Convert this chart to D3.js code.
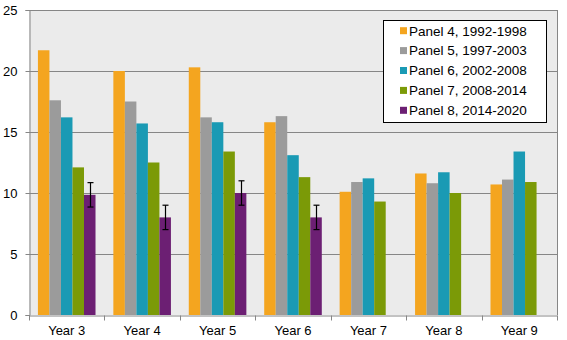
<!DOCTYPE html>
<html>
<head>
<meta charset="utf-8">
<script src="https://cdn.jsdelivr.net/npm/d3@7"></script>
<style>
  body { margin: 0; background: #fff; }
  svg text { font-family: "Liberation Sans", Arial, sans-serif; }
</style>
</head>
<body>
<svg id="chart" width="567" height="340"></svg>
<script>
// categories and series
const years = ["Year 3", "Year 4", "Year 5", "Year 6", "Year 7", "Year 8", "Year 9"];
const panels = ["Panel 4, 1992-1998", "Panel 5, 1997-2003", "Panel 6, 2002-2008", "Panel 7, 2008-2014", "Panel 8, 2014-2020"];
const panel4 = [21.7, 20.0, 20.3, 15.8, 10.1, 11.6, 10.7];
const panel5 = [17.6, 17.5, 16.2, 16.3, 10.9, 10.8, 11.1];
const panel6 = [16.2, 15.7, 15.8, 13.1, 11.2, 11.7, 13.4];
const panel7 = [12.1, 12.5, 13.4, 11.3, 9.3, 10.0, 10.9];
const panel8 = [9.85, 8.0, 10.0, 8.0, null, null, null];
const panel8Err = [1.0, 1.0, 1.0, 1.0, null, null, null];
const yTicks = [0, 5, 10, 15, 20, 25];

const colors = ["#F4A51F", "#9B9B9B", "#1A9AB4", "#7B9A07", "#6C1F73"];
const series = [panel4, panel5, panel6, panel7, panel8];

const svg = d3.select("#chart");
const m = { left: 29, right: 10, top: 10, bottom: 25 };
const W = 567, H = 340;

const x = d3.scaleBand().domain(years).range([m.left, W - m.right]);
const y = d3.scaleLinear().domain([0, 25]).range([H - m.bottom, m.top]);

// plot background
svg.append("rect")
  .attr("x", m.left).attr("y", m.top)
  .attr("width", W - m.right - m.left).attr("height", H - m.bottom - m.top)
  .attr("fill", "#EBEBEB");

// gridlines
svg.append("g").selectAll("line").data(yTicks.slice(1)).join("line")
  .attr("x1", m.left).attr("x2", W - m.right)
  .attr("y1", d => Math.round(y(d)) + 0.5).attr("y2", d => Math.round(y(d)) + 0.5)
  .attr("stroke", "#868686");

// right border
svg.append("line")
  .attr("x1", W - m.right + 0.5).attr("x2", W - m.right + 0.5)
  .attr("y1", m.top).attr("y2", H - m.bottom)
  .attr("stroke", "#868686");

// bars: 5 slots per category, bar width ~ band / (5 + 1.5 gap)
const bw = x.bandwidth() / 6.55;
const inner = d3.scaleBand().domain(d3.range(5)).range([0, bw * 5]);
const offset = (x.bandwidth() - bw * 5) / 2;

const rows = [];
series.forEach((vals, s) => vals.forEach((v, i) => {
  if (v != null) rows.push({ s, i, v });
}));

svg.append("g").selectAll("rect").data(rows).join("rect")
  .attr("x", d => x(years[d.i]) + offset + inner(d.s))
  .attr("width", inner.bandwidth())
  .attr("y", d => y(d.v))
  .attr("height", d => y(0) - y(d.v))
  .attr("fill", d => colors[d.s]);

// error bars for panel 8
const errs = panel8.map((v, i) => ({ v, e: panel8Err[i], i })).filter(d => d.v != null);
const eg = svg.append("g").attr("stroke", "#000").attr("stroke-width", 1.2);
errs.forEach(d => {
  const cx = Math.round(x(years[d.i]) + offset + inner(4) + inner.bandwidth() / 2) + 0.5;
  const y1 = y(d.v + d.e), y2 = y(d.v - d.e);
  eg.append("line").attr("x1", cx).attr("x2", cx).attr("y1", y1).attr("y2", y2);
  eg.append("line").attr("x1", cx - 3).attr("x2", cx + 3).attr("y1", y1).attr("y2", y1);
  eg.append("line").attr("x1", cx - 3).attr("x2", cx + 3).attr("y1", y2).attr("y2", y2);
});

// axes
const xAxis = svg.append("g")
  .attr("transform", `translate(0,${Math.round(y(0)) + 0.5})`)
  .call(d3.axisBottom(x).tickSize(0).tickPadding(10));
xAxis.select(".domain").attr("stroke", "#868686");
xAxis.selectAll("text").attr("font-size", 13).attr("fill", "#000");
// tick marks between categories
xAxis.selectAll(".sep").data(years.concat([null])).join("line")
  .attr("class", "sep")
  .attr("x1", (d, i) => Math.round(m.left + i * x.step()) + 0.5)
  .attr("x2", (d, i) => Math.round(m.left + i * x.step()) + 0.5)
  .attr("y1", 0).attr("y2", 5)
  .attr("stroke", "#868686");

const yAxis = svg.append("g")
  .attr("transform", `translate(${m.left + 0.5},0)`)
  .call(d3.axisLeft(y).tickValues(yTicks).tickSize(4).tickPadding(8));
yAxis.select(".domain").attr("stroke", "#868686");
yAxis.selectAll(".tick line").attr("stroke", "#868686");
yAxis.selectAll("text").attr("font-size", 13).attr("fill", "#000");

// legend
const lg = svg.append("g");
lg.append("rect")
  .attr("x", 383.5).attr("y", 20.5).attr("width", 163).attr("height", 102)
  .attr("fill", "#fff").attr("stroke", "#000");
panels.forEach((p, i) => {
  const cy = 30.7 + i * 19.9;
  lg.append("rect").attr("x", 400).attr("y", cy - 3.5).attr("width", 7).attr("height", 7)
    .attr("fill", colors[i]);
  lg.append("text").attr("x", 409).attr("y", cy).attr("dy", "0.36em")
    .attr("font-size", 13.5).attr("fill", "#000").text(p);
});
</script>
</body>
</html>
